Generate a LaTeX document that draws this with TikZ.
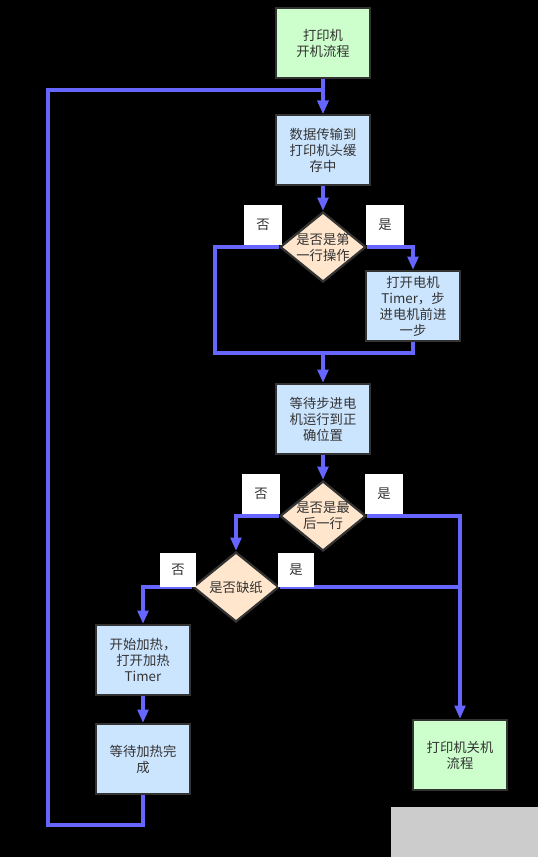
\documentclass[tikz,border=0pt]{standalone}
\usepackage{fontspec}
\setmainfont{Noto Sans CJK SC}
\usetikzlibrary{shapes.geometric,arrows.meta}
\definecolor{procblue}{HTML}{CCE5FF}
\definecolor{termgreen}{HTML}{CCFFCC}
\definecolor{decidefill}{HTML}{FFE6CC}
\definecolor{linkblue}{HTML}{6666FF}
\definecolor{edgegray}{HTML}{333333}
\tikzset{flow/.style={draw=edgegray, line width=1.7pt, text=edgegray, align=center, font=\fontsize{10}{12}\selectfont}}
\tikzset{proc/.style={flow, rectangle, fill=procblue, minimum width=70.5pt, minimum height=52.5pt}}
\tikzset{term/.style={proc, fill=termgreen}}
\tikzset{decide/.style={flow, diamond, fill=decidefill, inner sep=0pt, minimum width=64.5pt, minimum height=52.5pt}}
\tikzset{decidetext/.style={text=edgegray, align=center, font=\fontsize{10}{12}\selectfont}}
\tikzset{answer/.style={fill=white, text=edgegray, minimum width=28.5pt, minimum height=30pt, inner sep=0pt, font=\fontsize{10}{12}\selectfont}}
\tikzset{line/.style={draw=linkblue, line width=2.5pt}}
\tikzset{link/.style={line, -{Triangle[width=8pt,length=10pt]}}}

\begin{document}
\begin{tikzpicture}[x=0.75pt, y=-0.75pt]
  \fill[black] (0,0) rectangle (538,857);
  \useasboundingbox (0,0) rectangle (538,857);
  \fill[black!20] (391,807) rectangle (538,857);

  \node[term] (start) at (323,43) {打印机\\开机流程};
  \node[proc] (data) at (323,150) {数据传输到\\打印机头缓\\存中};
  \node[decide, label={[decidetext]center:{是否是第\\一行操作}}] (d1) at (323,247) {};
  \node[proc] (motor) at (413,306) {打开电机\\Timer，步\\进电机前进\\一步};
  \node[proc] (wait) at (323,419) {等待步进电\\机运行到正\\确位置};
  \node[decide, label={[decidetext]center:{是否是最\\后一行}}] (d2) at (323,516) {};
  \node[decide, label={[decidetext]center:{是否缺纸}}] (d3) at (236,587) {};
  \node[proc] (heat) at (143,660) {开始加热，\\打开加热\\Timer};
  \node[proc] (wheat) at (143,759) {等待加热完\\成};
  \node[term] (stop) at (460,755) {打印机关机\\流程};

  \coordinate (loopbl) at (48,825);
  \coordinate (looptl) at (48,90);
  \coordinate (noA) at (215,353);
  \coordinate (mergeA) at (323,353);
  \coordinate (yesB) at (460,587);

  \draw[link] (start) -- (data);
  \draw[link] (data) -- (d1);
  \draw[link] (d1.east) -| (motor.north);
  \draw[line] (d1.west) -| (noA) -- (mergeA);
  \draw[line] (motor.south) |- (mergeA);
  \draw[link] (mergeA) -- (wait.north);
  \draw[link] (wait) -- (d2);
  \draw[link] (d2.west) -| (d3.north);
  \draw[link] (d2.east) -| (stop.north);
  \draw[line] (d3.east) -- (yesB);
  \draw[link] (d3.west) -| (heat.north);
  \draw[link] (heat) -- (wheat);
  \draw[link] (wheat.south) |- (loopbl) -- (looptl) -| (data.north);

  \node[answer] (no1) at (263,225) {否};
  \node[answer] (yes1) at (385,225) {是};
  \node[answer] (no2) at (261,494) {否};
  \node[answer] (yes2) at (384,494) {是};
  \node[answer, minimum height=25pt, minimum width=27.5pt] (no3) at (178,570) {否};
  \node[answer, minimum height=25pt, minimum width=27.5pt] (yes3) at (296,570) {是};
\end{tikzpicture}
\end{document}
